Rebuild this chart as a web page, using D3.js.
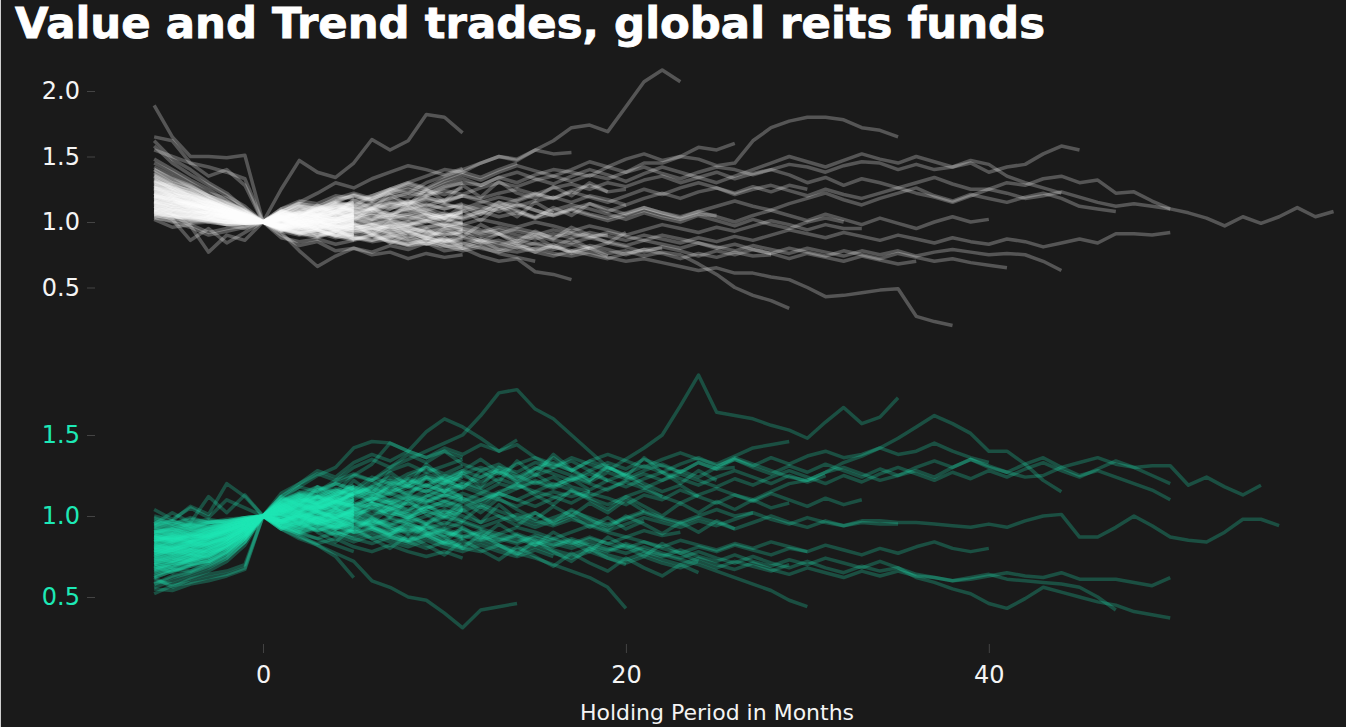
<!DOCTYPE html>
<html><head><meta charset="utf-8">
<script src="https://cdn.jsdelivr.net/npm/d3@7"></script>
<style>html,body{margin:0;padding:0;background:#1a1a1a;overflow:hidden}</style>
</head><body><svg id="c" width="1346" height="727"></svg>
<script>
// ---------- data ----------
const titleText = "Value and Trend trades, global reits funds";
const xLabel = "Holding Period in Months";
const startMonth = -6;           // first month of every series
const xTicks = [0, 20, 40];
const topTicks = [0.5, 1.0, 1.5, 2.0];
const bottomTicks = [0.5, 1.0, 1.5];

// Value trades (top panel), month -6 onward
const valueShort = [
[1.25,1.21,1.18,1.14,1.10,1.05,1,1.03,1.01,1.04,1.02,1.06],
[1.15,1.12,1.13,1.08,1.06,1.03,1,0.97,0.99,0.96,0.98,0.95],
[1.32,1.26,1.22,1.18,1.12,1.06,1,1.05,1.08,1.06,1.10,1.09],
[1.08,1.06,1.05,1.04,1.02,1.01,1,0.98,0.95,0.97,0.93,0.96],
[1.20,1.17,1.11,1.13,1.07,1.04,1,1.02,0.99,1.00,1.03,1.01],
[1.38,1.30,1.25,1.20,1.15,1.08,1,1.04,1.02,1.07,1.05,1.11],
[1.12,1.10,1.06,1.08,1.03,1.02,1,0.96,0.93,0.95,0.91,0.90],
[1.28,1.23,1.20,1.12,1.09,1.04,1,1.01,1.05,1.03,1.00,1.04],
[1.18,1.16,1.12,1.10,1.08,1.02,1,1.06,1.04,1.09,1.12,1.08],
[1.05,1.03,1.04,1.00,0.98,0.99,1,0.97,0.94,0.92,0.95,0.93],
[1.30,1.28,1.19,1.16,1.10,1.07,1,0.98,1.00,0.97,1.01,0.99],
[1.22,1.15,1.16,1.09,1.05,1.05,1,1.03,1.07,1.05,1.08,1.13],
[1.45,1.38,1.30,1.22,1.18,1.10,1,1.02,0.98,1.01,0.96,0.99],
[1.10,1.08,1.09,1.05,1.04,1.00,1,1.04,1.02,1.00,1.05,1.03],
[1.26,1.20,1.14,1.15,1.08,1.06,1,0.95,0.97,0.94,0.96,0.92],
[1.16,1.13,1.10,1.06,1.05,1.03,1,1.08,1.06,1.10,1.08,1.15],
[1.35,1.27,1.24,1.16,1.13,1.05,1,1.01,1.03,0.99,1.02,1.00],
[1.07,1.05,1.02,1.03,0.99,0.98,1,1.02,0.99,1.03,1.01,1.05],
[1.24,1.22,1.16,1.12,1.09,1.03,1,0.94,0.96,0.90,0.93,0.89],
[1.58,1.45,1.36,1.28,1.20,1.12,1,1.07,1.11,1.09,1.14,1.12],
[1.13,1.12,1.07,1.07,1.04,1.01,1,0.99,1.02,1.05,1.02,1.06],
[1.20,1.14,1.15,1.10,1.06,1.04,1,1.05,1.03,1.06,1.04,1.02],
[1.02,0.96,0.98,0.92,0.95,0.97,1,0.98,0.96,1.00,0.97,0.94],
[1.29,1.24,1.17,1.14,1.11,1.05,1,0.99,0.95,0.98,1.00,0.97],
[1.17,1.14,1.14,1.09,1.05,1.02,1,1.03,1.06,1.02,1.07,1.09],
[1.40,1.33,1.28,1.20,1.14,1.09,1,0.96,0.99,1.02,0.98,1.01],
[1.09,1.07,1.03,1.04,1.01,1.00,1,1.06,1.09,1.07,1.12,1.10],
[1.23,1.19,1.13,1.11,1.07,1.04,1,1.01,0.98,0.95,0.99,0.96],
[1.14,1.11,1.08,1.07,1.03,1.02,1,0.97,1.00,1.03,1.00,1.04],
[1.33,1.25,1.21,1.15,1.12,1.06,1,1.04,1.07,1.04,1.02,1.07],
[1.19,1.17,1.10,1.11,1.06,1.03,1,0.93,0.90,0.92,0.88,0.91],
[1.06,1.05,1.01,1.02,1.00,0.99,1,1.02,1.04,1.01,1.03,1.00],
[1.27,1.21,1.19,1.13,1.08,1.05,1,1.08,1.05,1.11,1.09,1.06],
[1.11,1.09,1.08,1.05,1.02,1.02,1,0.99,0.97,0.99,0.96,0.98],
[1.21,1.20,1.14,1.10,1.07,1.03,1,1.03,1.00,1.02,1.06,1.04],
[1.36,1.29,1.23,1.17,1.12,1.08,1,1.01,1.04,1.00,1.03,1.05],
[1.15,1.10,1.11,1.06,1.04,1.01,1,0.96,0.98,0.95,0.97,1.00],
[1.62,1.48,1.40,1.30,1.22,1.10,1,1.05,1.02,1.06,1.03,1.08],
[1.04,1.00,0.96,0.90,0.93,0.96,1,1.02,0.97,0.99,1.01,0.97],
[1.26,1.24,1.16,1.15,1.09,1.05,1,1.00,1.03,1.01,0.98,1.02],
[1.89,1.65,1.50,1.50,1.49,1.51,1,1.03,1.10,1.08,1.12,1.15],
[1.08,1.02,0.86,0.95,0.84,0.92,1,0.94,0.91,0.88,0.93,0.90],
[1.12,1.06,0.97,0.77,0.90,0.86,1,0.88,0.85,0.87,0.83,0.86],
[1.65,1.62,1.45,1.42,1.38,1.33,1,1.10,1.16,1.14,1.20,1.18],
[1.55,1.50,1.45,1.35,1.40,1.28,1,1.08,1.04,1.10,1.07,1.12]
];
const valueMedium = [
[1.30,1.24,1.20,1.15,1.10,1.05,1,1.04,1.07,1.05,1.09,1.12,1.10,1.15,1.13,1.18,1.16,1.20],
[1.15,1.13,1.10,1.07,1.04,1.02,1,0.97,0.95,0.98,0.94,0.92,0.95,0.91,0.93,0.89,0.92,0.90],
[1.22,1.18,1.14,1.12,1.07,1.04,1,1.02,1.00,1.03,1.06,1.03,1.07,1.05,1.02,1.06,1.04,1.08],
[1.10,1.09,1.06,1.04,1.03,1.01,1,0.96,0.98,0.94,0.96,0.99,0.95,0.97,1.00,0.96,0.98,0.95],
[1.42,1.35,1.27,1.20,1.15,1.09,1,1.08,1.12,1.10,1.15,1.13,1.18,1.22,1.19,1.24,1.21,1.26],
[1.18,1.15,1.13,1.08,1.05,1.03,1,0.99,1.02,0.98,1.01,0.97,0.99,0.96,0.98,1.01,0.97,0.99],
[1.25,1.19,1.17,1.11,1.08,1.04,1,1.03,1.06,1.09,1.06,1.10,1.08,1.12,1.09,1.13,1.10,1.14],
[1.08,1.05,1.04,1.03,1.00,1.00,1,0.94,0.92,0.89,0.92,0.88,0.86,0.89,0.85,0.88,0.84,0.87],
[1.34,1.27,1.22,1.16,1.11,1.06,1,1.05,1.03,1.07,1.04,1.08,1.05,1.03,1.06,1.02,1.05,1.03],
[1.19,1.16,1.12,1.09,1.06,1.02,1,1.01,0.97,1.00,0.96,0.93,0.96,0.92,0.95,0.93,0.90,0.93],
[1.27,1.22,1.18,1.14,1.09,1.04,1,1.10,1.14,1.12,1.17,1.20,1.16,1.22,1.25,1.21,1.27,1.30],
[1.12,1.10,1.08,1.05,1.03,1.01,1,0.98,1.00,1.03,1.00,1.02,1.05,1.01,1.04,1.07,1.03,1.06],
[1.48,1.40,1.32,1.25,1.16,1.08,1,1.02,0.98,1.01,0.97,0.95,0.98,0.94,0.97,0.93,0.96,0.94],
[1.21,1.19,1.13,1.12,1.07,1.03,1,1.06,1.04,1.08,1.11,1.07,1.10,1.14,1.11,1.09,1.13,1.11],
[1.16,1.12,1.11,1.06,1.04,1.02,1,0.95,0.91,0.94,0.90,0.87,0.90,0.86,0.83,0.87,0.84,0.81],
[1.31,1.26,1.20,1.17,1.10,1.06,1,1.03,1.01,1.05,1.08,1.05,1.02,1.06,1.04,1.01,1.05,1.07],
[1.06,1.04,1.02,1.01,1.00,0.99,1,0.97,0.99,0.96,0.99,1.02,0.98,1.01,0.97,1.00,1.03,0.99],
[1.24,1.20,1.15,1.12,1.08,1.04,1,1.25,1.47,1.38,1.34,1.45,1.63,1.55,1.62,1.82,1.80,1.68],
[1.14,1.08,1.05,1.02,0.98,0.95,1,0.90,0.82,0.85,0.78,0.80,0.75,0.77,0.72,0.76,0.73,0.75],
[1.09,1.06,1.07,1.03,1.02,1.01,1,0.92,0.78,0.66,0.74,0.80,0.77,0.82,0.79,0.84,0.81,0.83],
[1.37,1.30,1.26,1.19,1.12,1.07,1,1.07,1.15,1.22,1.30,1.26,1.33,1.38,1.43,1.40,1.36,1.41],
[1.20,1.18,1.14,1.10,1.06,1.03,1,1.04,1.01,0.97,1.00,1.03,0.99,0.95,0.98,1.01,0.97,1.00]
];
const valueLong = [
[1.20,1.17,1.12,1.10,1.06,1.03,1,1.04,1.08,1.12,1.10,1.16,1.20,1.25,1.30,1.35,1.40,1.38,1.45,1.50,1.47,1.55,1.52,1.53],
[1.10,1.06,1.05,1.02,1.00,0.99,1,0.96,0.93,0.95,0.90,0.88,0.85,0.87,0.82,0.84,0.78,0.80,0.74,0.70,0.72,0.62,0.60,0.56],
[1.28,1.22,1.19,1.14,1.10,1.05,1,1.06,1.04,1.10,1.15,1.12,1.20,1.25,1.22,1.30,1.35,1.40,1.45,1.50,1.48,1.55,1.62,1.72,1.74,1.69,1.88,2.07,2.16,2.07],
[1.16,1.14,1.09,1.07,1.04,1.02,1,1.03,1.07,1.05,1.10,1.14,1.12,1.18,1.22,1.20,1.26,1.30,1.28,1.34,1.30,1.36,1.40,1.38,1.35,1.42,1.38,1.45,1.45,1.50,1.48,1.43,1.45,1.62,1.72,1.77,1.80,1.80,1.78,1.72,1.70,1.65],
[1.13,1.10,1.07,1.05,1.03,1.01,1,0.97,0.95,0.98,0.93,0.96,0.92,0.89,0.92,0.88,0.85,0.88,0.84,0.86,0.82,0.79,0.81,0.77,0.80,0.76,0.78,0.74,0.77,0.75,0.68,0.60,0.50,0.44,0.40,0.34],
[1.05,1.03,1.00,1.01,0.98,0.99,1,0.95,0.92,0.94,0.90,0.87,0.89,0.85,0.83,0.86,0.82,0.80,0.83,0.79,0.77,0.80,0.76,0.74,0.77,0.73,0.70,0.72,0.69,0.66,0.63,0.65,0.61,0.61,0.58,0.56,0.50,0.43,0.44,0.46,0.48,0.49,0.28,0.24,0.21],
[1.22,1.18,1.15,1.11,1.07,1.03,1,1.02,0.98,1.01,0.97,0.95,0.98,0.94,0.96,0.92,0.90,0.93,0.89,0.91,0.87,0.90,0.86,0.84,0.88,0.85,0.82,0.86,0.83,0.80,0.84,0.81,0.78,0.82,0.79,0.76,0.80,0.77,0.74,0.78,0.75,0.78,0.74,0.77,0.79,0.77,0.75,0.76,0.75,0.70,0.63],
[1.30,1.25,1.20,1.16,1.10,1.05,1,1.05,1.09,1.07,1.12,1.10,1.15,1.18,1.14,1.20,1.24,1.21,1.26,1.30,1.27,1.32,1.35,1.31,1.36,1.33,1.38,1.42,1.37,1.33,1.38,1.42,1.40,1.36,1.40,1.44,1.42,1.38,1.43,1.46,1.45,1.40,1.44,1.40,1.42,1.45,1.38,1.42,1.44,1.52,1.58,1.55],
[1.19,1.16,1.13,1.09,1.06,1.03,1,
 1.03,1.06,1.04,1.08,1.11,1.09,1.13,1.16,1.12,1.17,
 1.20,1.18,1.22,1.25,1.21,1.26,1.29,1.25,1.30,1.27,
 1.32,1.35,1.30,1.34,1.38,1.33,1.37,1.40,1.36,1.30,
 1.34,1.28,1.33,1.30,1.26,1.30,1.34,1.29,1.25,1.25,
 1.30,1.28,1.33,1.35,1.30,1.32,1.22,1.23,1.16,1.10,
 1.07,1.03,0.97,1.04,0.99,1.04,1.11,1.04,1.08],
[1.10,1.08,1.05,1.04,1.01,1.00,1,
 0.97,0.99,0.95,0.97,0.93,0.96,0.92,0.94,0.90,0.93,
 0.95,0.91,0.94,0.90,0.87,0.91,0.88,0.92,0.89,0.86,
 0.90,0.87,0.84,0.88,0.85,0.89,0.86,0.90,0.94,0.91,
 0.88,0.92,0.89,0.86,0.90,0.87,0.84,0.88,0.85,0.83,
 0.87,0.85,0.81,0.84,0.87,0.84,0.91,0.91,0.90,0.92],
[1.16,1.12,1.10,1.06,1.04,1.02,1,
 0.98,1.02,0.99,0.95,0.98,0.94,0.97,0.93,0.96,0.99,
 0.95,0.92,0.96,0.93,0.90,0.94,0.91,0.88,0.92,0.89,
 0.86,0.90,0.87,0.84,0.80,0.83,0.79,0.76,0.80,0.77,
 0.74,0.78,0.75,0.72,0.76,0.73,0.70,0.72,0.69,0.67,0.65],
[1.24,1.20,1.16,1.12,1.08,1.04,1,
 1.02,1.06,1.03,1.07,1.05,1.09,1.06,1.10,1.14,1.10,
 1.13,1.09,1.15,1.12,1.16,1.19,1.15,1.20,1.17,1.13,
 1.18,1.22,1.18,1.23,1.26,1.21,1.25,1.28,1.24,1.20,
 1.25,1.21,1.18,1.22,1.26,1.22,1.19,1.15,1.20,1.25,
 1.22,1.18,1.20,1.23,1.19,1.15,1.12,1.14,1.12,1.10],
[1.14,1.11,1.08,1.06,1.03,1.01,1,
 0.99,0.96,1.00,1.03,0.99,1.02,0.98,1.01,1.05,1.01,
 1.04,1.08,1.04,1.07,1.03,1.06,1.10,1.06,1.03,1.07,
 1.11,1.07,1.04,1.08,1.12,1.16,1.12,1.09,1.14,1.18,
 1.22,1.17,1.13,1.18,1.22,1.26,1.20,1.16,1.21,1.18,
 1.15,1.19,1.22,1.18,1.12,1.10,1.08],
[1.32,1.26,1.22,1.17,1.12,1.06,1,
 1.08,1.13,1.10,1.16,1.20,1.17,1.23,1.27,1.23,1.29,
 1.33,1.28,1.34,1.38,1.33,1.29,1.35,1.40,1.36,1.31,
 1.37,1.42,1.38,1.34,1.30,1.35,1.40,1.45,1.50,1.46,
 1.42,1.47,1.52,1.48,1.45,1.50,1.46,1.42,1.47,1.44,
 1.35,1.30,1.26,1.22],
[1.09,1.07,1.04,1.03,1.01,0.99,1,
 0.95,0.92,0.96,0.99,0.95,0.98,1.02,0.98,1.03,1.07,
 1.03,1.08,1.12,1.08,1.04,1.09,1.13,1.10,1.06,1.02,
 1.07,1.03,1.00,1.05,1.01,0.97,1.02,0.98,0.95,1.00,1.03,1.00],
[1.20,1.17,1.13,1.10,1.06,1.03,1,
 0.97,0.94,0.97,0.93,0.90,0.94,0.91,0.87,0.90,0.86,
 0.83,0.87,0.84,0.80,0.84,0.81,0.78,0.82,0.79,0.75,
 0.79,0.76,0.72,0.76,0.73,0.77,0.74,0.75],
[1.35,1.28,1.24,1.18,1.12,1.06,1,
 1.06,1.12,1.09,1.15,1.21,1.17,1.24,1.29,1.25,1.31,
 1.36,1.32,1.38,1.43,1.39,1.35,1.40,1.46,1.42,1.48,
 1.52,1.47,1.50,1.57,1.55,1.60],
[1.18,1.14,1.12,1.08,1.05,1.02,1,
 1.04,1.02,1.06,1.10,1.07,1.11,1.15,1.12,1.17,1.14,
 1.10,1.15,1.19,1.16,1.21,1.18,1.24,1.28,1.23,1.25],
[1.06,1.04,1.03,1.01,1.00,0.99,1,
 0.96,0.92,0.89,0.93,0.89,0.86,0.90,0.86,0.83,0.87,
 0.84,0.80,0.77,0.81,0.77,0.74,0.78,0.75,0.72,0.76,0.79,0.80],
[1.26,1.21,1.18,1.13,1.09,1.04,1,
 1.01,0.99,1.03,1.00,1.04,1.07,1.03,1.06,1.10,1.06,
 1.02,1.06,1.10,1.14,1.09,1.05,1.09,1.05,1.01,1.05,
 1.09,1.05,1.02,1.06,1.05],
[1.12,1.09,1.07,1.04,1.02,1.00,1,
 0.95,0.91,0.94,0.89,0.86,0.90,0.85,0.82,0.86,0.82,0.78,0.81,0.76,0.73,0.70],
[1.40,1.32,1.27,1.20,1.14,1.08,1,
 1.08,1.14,1.11,1.18,1.22,1.18,1.25,1.30,1.26,1.33,1.38,1.34,1.40,1.45],
[1.15,1.12,1.09,1.07,1.04,1.02,1,
 1.03,1.00,1.04,1.08,1.04,1.01,1.05,1.09,1.05,1.02,
 0.98,1.02,0.99,0.96,1.00,0.97,0.93,0.97,0.94,0.90,
 0.94,0.98,0.95,0.92,0.96,0.93,0.97,1.01,0.98,0.94,0.98,0.95,0.95],
[1.28,1.24,1.19,1.15,1.10,1.05,1,
 1.07,1.04,1.09,1.13,1.09,1.14,1.10,1.15,1.19,1.15,
 1.20,1.16,1.12,1.17,1.22,1.18,1.23,1.19,1.15,1.20,
 1.25,1.21,1.26,1.30,1.26,1.22,1.27,1.23,1.28,1.25],
[1.08,1.06,1.04,1.02,1.00,1.00,1,
 0.98,1.01,0.97,0.94,0.98,0.95,0.99,0.96,0.92,0.95,
 0.98,0.94,0.91,0.95,0.92,0.88,0.92,0.89,0.90],
[1.21,1.17,1.14,1.10,1.07,1.03,1,
 1.04,1.01,1.05,1.02,1.06,1.10,1.06,1.11,1.07,1.03,
 1.08,1.12,1.08,1.13,1.09,1.05,1.10,1.14,1.10,1.06,
 1.11,1.07,1.03,1.08,1.04,1.00,1.05,1.09,1.05,1.01,
 1.06,1.02,0.98,1.03,0.99,0.95,1.00,1.04,1.00,1.02],
[1.03,1.01,0.99,1.00,0.98,0.99,1,
 0.94,0.97,0.93,0.90,0.94,0.91,0.88,0.92,0.88,0.85,
 0.89,0.86,0.82,0.86,0.83,0.79,0.83,0.80,0.84,0.81,
 0.77,0.81,0.78,0.74,0.78,0.75,0.79,0.76,0.72,0.76,
 0.73,0.70,0.74,0.71,0.68,0.70]
];
const valueExtra = [
[1.23,1.19,1.15,1.12,1.08,1.04,1,0.97,1.05,0.99,1.08,1.01,1.11,1.03,1.14,1.06,0.98,1.09,1.01,1.12,1.04,1.15,1.07],
[1.11,1.09,1.06,1.04,1.02,1.01,1,1.04,0.96,1.02,0.93,0.99,0.90,0.97,0.88,0.95,0.86,0.93,0.85,0.91,0.83,0.89,0.81,0.87,0.80],
[1.31,1.25,1.21,1.16,1.11,1.05,1,1.09,1.03,1.13,1.06,1.17,1.10,1.21,1.13,1.25,1.16,1.28,1.19,1.31,1.22,1.18,1.27,1.20,1.30,1.23],
[1.17,1.14,1.11,1.08,1.05,1.02,1,0.95,1.01,0.94,0.89,0.97,0.91,1.00,0.93,0.87,0.95,0.89,0.98,0.91,0.85,0.93,0.87,0.96,0.90,0.84,0.92],
[1.26,1.22,1.17,1.13,1.09,1.04,1,1.06,1.12,1.05,1.14,1.08,1.02,1.10,1.16,1.09,1.03,1.12,1.06,1.15,1.09,1.03,1.11,1.05,1.14,1.08,1.13],
[1.07,1.05,1.03,1.02,1.00,0.99,1,0.93,0.98,0.90,0.95,0.87,0.92,0.84,0.90,0.83,0.88,0.80,0.86,0.79,0.84,0.77,0.83,0.76,0.80,0.74]
];

// Trend trades (bottom panel), month -6 onward
const trendShort = [
[0.78,0.82,0.80,0.86,0.90,0.94,1,1.04,1.02,1.07,1.05,1.10],
[0.70,0.72,0.76,0.74,0.82,0.90,1,0.97,1.01,0.98,1.03,1.00],
[0.88,0.86,0.90,0.92,0.95,0.97,1,1.06,1.10,1.08,1.13,1.16],
[0.62,0.66,0.70,0.72,0.78,0.86,1,0.95,0.92,0.96,0.93,0.97],
[0.82,0.85,0.84,0.88,0.91,0.96,1,1.02,1.07,1.05,1.09,1.06],
[0.95,0.92,0.96,0.94,0.97,0.98,1,1.08,1.05,1.12,1.09,1.14],
[0.74,0.78,0.76,0.80,0.85,0.92,1,0.93,0.96,0.91,0.94,0.90],
[0.86,0.84,0.88,0.87,0.92,0.95,1,1.03,1.00,1.04,1.08,1.05],
[0.68,0.71,0.74,0.78,0.80,0.88,1,1.01,1.05,1.02,1.00,1.04],
[0.90,0.93,0.91,0.95,0.94,0.98,1,0.98,0.95,0.99,0.96,1.01],
[0.76,0.74,0.79,0.83,0.87,0.93,1,1.05,1.09,1.12,1.08,1.13],
[0.58,0.63,0.66,0.70,0.75,0.84,1,0.96,0.99,0.95,0.98,0.94],
[0.84,0.88,0.86,0.90,0.93,0.96,1,1.07,1.04,1.09,1.06,1.11],
[0.98,0.95,0.99,0.96,0.98,0.99,1,1.02,1.06,1.03,1.07,1.04],
[0.72,0.75,0.79,0.77,0.84,0.90,1,0.94,0.90,0.93,0.89,0.92],
[0.80,0.83,0.81,0.86,0.89,0.94,1,1.09,1.13,1.10,1.15,1.19],
[0.92,0.89,0.93,0.91,0.95,0.97,1,1.00,1.03,0.99,1.02,0.98],
[0.66,0.69,0.73,0.76,0.81,0.89,1,1.04,1.01,1.05,1.10,1.07],
[0.87,0.85,0.87,0.89,0.92,0.96,1,0.96,0.99,1.03,1.00,1.03],
[0.75,0.80,0.78,0.82,0.86,0.93,1,1.06,1.11,1.08,1.12,1.09],
[0.60,0.58,0.62,0.66,0.72,0.82,1,0.97,0.93,0.96,0.92,0.95],
[0.83,0.80,0.84,0.85,0.90,0.94,1,1.03,1.07,1.11,1.07,1.12],
[0.94,0.97,0.93,0.96,0.95,0.98,1,1.05,1.02,1.06,1.03,1.08],
[0.71,0.73,0.77,0.75,0.81,0.89,1,0.99,1.02,0.98,1.01,0.97],
[0.79,0.77,0.82,0.84,0.88,0.93,1,1.10,1.07,1.13,1.16,1.12],
[0.89,0.91,0.88,0.92,0.93,0.97,1,0.95,0.97,0.94,0.98,0.95],
[0.64,0.67,0.69,0.73,0.78,0.87,1,1.02,1.05,1.09,1.06,1.10],
[0.81,0.79,0.83,0.82,0.87,0.92,1,1.04,1.00,1.03,0.99,1.02],
[0.97,0.94,0.96,0.98,0.96,0.99,1,1.07,1.10,1.06,1.10,1.14],
[0.73,0.76,0.74,0.79,0.83,0.91,1,0.92,0.95,0.91,0.95,0.93],
[0.85,0.87,0.85,0.88,0.91,0.95,1,1.01,1.04,1.07,1.04,1.08],
[0.69,0.65,0.70,0.72,0.77,0.86,1,1.03,0.99,1.02,0.98,1.01],
[0.77,0.81,0.79,0.84,0.86,0.92,1,1.08,1.12,1.09,1.14,1.10],
[0.91,0.88,0.92,0.90,0.94,0.97,1,0.97,1.00,0.96,0.99,1.03],
[0.56,0.60,0.64,0.68,0.74,0.84,1,1.00,0.96,1.00,1.04,1.00],
[0.83,0.86,0.84,0.87,0.90,0.95,1,1.05,1.08,1.04,1.09,1.06],
[1.04,0.98,1.05,0.99,1.10,1.05,1,1.06,1.03,1.08,1.05,1.02],
[0.95,1.02,0.96,1.12,1.02,1.13,1,1.10,1.14,1.18,1.13,1.18],
[1.00,0.97,1.06,1.01,1.20,1.12,1,1.08,1.12,1.15,1.20,1.17],
[0.55,0.54,0.58,0.60,0.63,0.67,1,0.93,0.90,0.86,0.82,0.78],
[0.62,0.56,0.61,0.64,0.66,0.70,1,0.95,0.88,0.82,0.75,0.62],
[0.52,0.57,0.59,0.62,0.64,0.68,1,0.97,0.94,0.98,0.95,0.99]
];
const trendMedium = [
[0.80,0.83,0.85,0.88,0.92,0.95,1,1.05,1.10,1.08,1.14,1.18,1.15,1.21,1.18,1.24,1.22,1.27],
[0.72,0.75,0.73,0.79,0.84,0.91,1,0.96,0.93,0.97,0.94,0.90,0.93,0.89,0.92,0.88,0.91,0.87],
[0.88,0.86,0.90,0.89,0.94,0.96,1,1.03,1.07,1.04,1.09,1.06,1.11,1.08,1.12,1.09,1.14,1.11],
[0.65,0.68,0.72,0.75,0.80,0.88,1,1.01,0.98,1.02,1.05,1.01,1.04,1.00,1.03,1.06,1.02,1.05],
[0.93,0.90,0.94,0.92,0.95,0.98,1,1.12,1.18,1.15,1.22,1.26,1.22,1.28,1.32,1.27,1.31,1.35],
[0.78,0.76,0.80,0.83,0.86,0.92,1,0.98,1.02,0.99,0.96,1.00,0.97,0.94,0.98,0.95,0.99,0.96],
[0.84,0.87,0.85,0.89,0.91,0.95,1,1.06,1.03,1.08,1.12,1.08,1.05,1.10,1.07,1.12,1.16,1.12],
[0.70,0.68,0.73,0.76,0.82,0.89,1,0.93,0.89,0.86,0.90,0.86,0.83,0.87,0.84,0.80,0.84,0.81],
[0.96,0.93,0.95,0.97,0.96,0.98,1,1.09,1.13,1.10,1.16,1.12,1.18,1.22,1.18,1.23,1.20,1.24],
[0.76,0.79,0.77,0.82,0.86,0.92,1,1.02,1.06,1.03,1.00,1.04,1.08,1.05,1.01,1.05,1.09,1.06],
[0.62,0.66,0.69,0.71,0.77,0.86,1,0.97,1.00,0.96,1.00,0.97,0.94,0.98,0.95,0.92,0.96,0.93],
[0.86,0.84,0.88,0.86,0.91,0.95,1,1.14,1.20,1.26,1.22,1.30,1.35,1.30,1.38,1.33,1.40,1.36],
[0.81,0.85,0.83,0.87,0.90,0.94,1,1.01,0.97,1.00,1.04,1.00,1.05,1.02,0.99,1.03,1.00,1.04],
[0.74,0.72,0.76,0.80,0.84,0.91,1,1.07,1.11,1.07,1.12,1.16,1.12,1.17,1.14,1.19,1.15,1.20],
[0.90,0.92,0.89,0.93,0.94,0.97,1,0.94,0.90,0.93,0.88,0.91,0.86,0.89,0.85,0.88,0.83,0.86],
[0.67,0.71,0.70,0.74,0.79,0.87,1,1.04,1.08,1.05,1.09,1.13,1.09,1.06,1.11,1.08,1.13,1.10],
[0.79,0.81,0.84,0.83,0.88,0.93,1,1.00,1.03,1.06,1.02,1.05,1.01,1.04,1.08,1.04,1.07,1.03],
[0.99,0.95,0.98,0.96,0.97,0.99,1,1.11,1.08,1.16,1.20,1.16,1.24,1.20,1.26,1.30,1.26,1.31],
[0.58,0.62,0.65,0.69,0.74,0.84,1,0.92,0.87,0.83,0.86,0.81,0.78,0.82,0.78,0.75,0.78,0.74],
[0.87,0.89,0.86,0.90,0.92,0.96,1,1.05,1.09,1.13,1.09,1.14,1.17,1.13,1.18,1.15,1.20,1.17],
[0.70,0.72,0.75,0.78,0.82,0.88,1,0.92,0.86,0.82,0.77,0.72,0.60,0.56,0.50,0.48,0.40,0.31,0.42,0.44,0.46]
];
const trendLong = [
[0.82,0.80,0.84,0.86,0.90,0.94,1,
 0.97,0.94,0.98,0.93,0.90,0.92,0.87,0.84,0.88,0.83,
 0.80,0.78,0.82,0.77,0.74,0.70,0.66,0.62,0.56,0.43],
[0.75,0.78,0.76,0.80,0.85,0.92,1,
 0.98,1.01,0.97,0.94,0.98,0.94,0.91,0.95,0.91,0.88,
 0.92,0.88,0.85,0.89,0.85,0.82,0.86,0.82,0.79,0.83,
 0.79,0.76,0.73,0.70,0.66,0.62,0.58,0.54,0.48,0.44],
[0.85,0.88,0.86,0.90,0.93,0.96,1,
 1.05,1.09,1.06,1.12,1.16,1.12,1.18,1.22,1.18,1.24,
 1.28,1.24,1.30,1.27,1.33,1.30,1.36,1.32,1.28,1.35,
 1.42,1.50,1.68,1.87,1.64,1.62,1.60,1.56,1.53,1.48,
 1.58,1.67,1.57,1.61,1.73],
[0.88,0.90,0.87,0.92,0.94,0.97,1,
 1.08,1.15,1.12,1.20,1.25,1.22,1.30,1.35,1.40,1.45,
 1.50,1.62,1.76,1.78,1.66,1.60,1.50,1.40,1.30,1.25,1.18,1.12],
[0.80,0.84,0.82,0.87,0.90,0.95,1,
 1.06,1.12,1.18,1.15,1.25,1.32,1.45,1.40,1.52,1.60,
 1.55,1.48,1.40,1.44,1.36,1.30,1.34,1.28,1.22,1.26,
 1.20,1.15,1.19,1.12],
[0.92,0.90,0.94,0.93,0.96,0.98,1,
 1.10,1.18,1.25,1.30,1.42,1.46,1.45,1.40,1.36,1.40,
 1.32,1.28,1.32,1.25,1.20,1.24,1.18,1.15],
[0.83,0.81,0.85,0.87,0.91,0.95,1,
 1.03,1.07,1.04,1.09,1.06,1.11,1.08,1.13,1.10,1.06,
 1.11,1.08,1.14,1.10,1.15,1.12,1.08,1.14,1.11,1.07,
 1.13,1.10,1.16,1.12,1.08,1.13,1.10,1.15,1.20,1.22,
 1.27,1.33,1.37,1.42,1.48,1.55,1.62,1.57,1.51,1.40,
 1.40,1.32,1.22,1.15],
[0.90,0.87,0.91,0.89,0.93,0.96,1,
 1.04,1.00,1.05,1.09,1.05,1.10,1.14,1.10,1.16,1.12,
 1.18,1.14,1.20,1.17,1.22,1.18,1.24,1.20,1.16,1.22,
 1.26,1.22,1.28,1.24,1.30,1.36,1.32,1.28,1.24,1.22,
 1.27,1.30,1.26,1.22,1.25,1.28,1.24,1.30,1.35,1.30,
 1.27,1.24,1.25,1.30,1.33,1.36,1.32,1.30,1.31,1.31,
 1.19,1.24,1.18,1.13,1.19],
[0.77,0.79,0.82,0.81,0.86,0.92,1,
 0.97,1.00,0.96,0.99,1.03,0.99,0.95,0.99,0.96,1.00,
 0.97,0.93,0.97,1.01,0.97,0.94,0.98,0.95,0.91,0.95,
 0.99,0.96,0.93,0.97,0.94,0.98,1.02,0.98,0.95,0.99,
 0.96,0.94,0.97,0.97,0.96,0.96,0.95,0.94,0.93,0.95,
 0.93,0.97,1.00,1.01,0.87,0.87,0.93,1.00,0.94,0.87,
 0.85,0.84,0.90,0.98,0.98,0.94],
[0.85,0.83,0.87,0.88,0.92,0.95,1,
 1.04,1.08,1.05,1.10,1.14,1.10,1.15,1.19,1.15,1.21,
 1.25,1.21,1.27,1.23,1.29,1.33,1.28,1.34,1.30,1.26,
 1.31,1.27,1.32,1.36,1.31,1.35,1.30,1.26,1.31,1.27,
 1.32,1.28,1.24,1.29,1.25,1.30,1.34,1.30,1.35,1.31,
 1.27,1.32,1.36,1.30,1.25,1.28,1.24,1.20,1.16,1.10],
[0.79,0.82,0.80,0.85,0.88,0.94,1,
 1.02,0.99,1.03,1.07,1.03,1.08,1.04,1.09,1.13,1.09,
 1.14,1.10,1.15,1.19,1.15,1.20,1.16,1.12,1.17,1.21,
 1.17,1.22,1.26,1.22,1.18,1.23,1.19,1.24,1.28,1.24,
 1.20,1.25,1.21,1.26,1.30,1.26,1.22,1.27,1.23,1.28,
 1.24,1.29,1.33,1.28,1.24,1.29,1.34,1.30,1.25,1.20],
[0.68,0.71,0.74,0.77,0.82,0.89,1,
 0.96,0.92,0.95,0.91,0.88,0.92,0.88,0.85,0.89,0.85,
 0.82,0.86,0.82,0.79,0.83,0.79,0.76,0.80,0.76,0.73,
 0.77,0.73,0.70,0.74,0.70,0.67,0.71,0.67,0.64,0.68,
 0.65,0.62,0.66,0.63,0.66,0.63,0.62,0.60,0.61,0.63,
 0.65,0.63,0.62,0.65,0.61,0.61,0.61,0.59,0.57,0.62],
[0.74,0.77,0.75,0.79,0.84,0.91,1,
 0.97,1.00,0.96,0.93,0.97,0.93,0.90,0.94,0.90,0.87,
 0.91,0.87,0.84,0.88,0.84,0.81,0.85,0.81,0.78,0.82,
 0.78,0.75,0.79,0.75,0.72,0.76,0.72,0.69,0.73,0.70,
 0.74,0.71,0.68,0.72,0.68,0.62,0.59,0.55,0.52,0.46,
 0.43,0.49,0.56,0.53,0.50,0.47,0.45,0.41,0.39,0.37],
[0.88,0.86,0.89,0.88,0.92,0.96,1,
 0.98,0.95,0.99,0.96,0.92,0.96,0.93,0.89,0.93,0.90,
 0.86,0.90,0.86,0.83,0.87,0.83,0.80,0.84,0.80,0.77,
 0.81,0.77,0.74,0.78,0.74,0.71,0.75,0.71,0.68,0.72,
 0.68,0.65,0.69,0.66,0.68,0.64,0.62,0.60,0.62,0.64,
 0.61,0.60,0.59,0.58,0.56,0.50,0.42],
[0.90,0.92,0.89,0.93,0.95,0.97,1,
 1.06,1.10,1.07,1.13,1.17,1.13,1.19,1.23,1.19,1.25,
 1.21,1.17,1.23,1.19,1.25,1.29,1.25,1.21,1.27,1.23,
 1.28,1.32,1.27,1.33,1.29,1.35,1.31,1.36,1.32,1.37,
 1.40,1.36,1.38,1.42,1.38,1.40,1.45,1.40,1.36,1.33],
[0.73,0.76,0.79,0.78,0.84,0.91,1,
 1.03,1.07,1.03,0.99,1.04,1.08,1.04,1.00,1.05,1.09,
 1.05,1.10,1.14,1.10,1.06,1.11,1.15,1.11,1.07,1.12,
 1.16,1.12,1.08,1.13,1.17,1.13,1.09,1.14,1.10,1.06,1.11,1.07,1.10],
[0.66,0.69,0.72,0.75,0.80,0.88,1,
 0.95,0.91,0.94,0.90,0.86,0.90,0.86,0.83,0.87,0.83,
 0.80,0.84,0.80,0.77,0.81,0.77,0.74,0.78,0.74,0.71,
 0.75,0.71,0.68,0.72,0.68,0.72,0.69,0.66,0.70],
[0.94,0.91,0.95,0.93,0.96,0.98,1,
 1.09,1.14,1.11,1.17,1.13,1.19,1.24,1.20,1.26,1.22,
 1.18,1.24,1.28,1.24,1.30,1.26,1.22,1.28,1.33,1.29,
 1.35,1.31,1.27,1.33,1.29,1.30],
[0.81,0.79,0.83,0.85,0.89,0.94,1,
 1.00,0.97,1.01,0.98,0.94,0.98,0.95,0.91,0.95,0.92,
 0.96,0.92,0.89,0.93,0.90,0.86,0.90,0.94,0.90,0.87,0.91,0.88,0.90],
[0.77,0.80,0.78,0.82,0.86,0.93,1,
 1.05,1.02,1.07,1.11,1.07,1.12,1.08,1.04,1.09,1.13,
 1.09,1.14,1.10,1.06,1.11,1.15,1.12,1.15],
[0.70,0.73,0.71,0.76,0.81,0.89,1,
 0.93,0.89,0.92,0.88,0.84,0.88,0.84,0.81,0.85,0.81,
 0.78,0.82,0.78,0.75,0.79,0.75],
[0.87,0.85,0.88,0.90,0.93,0.96,1,
 1.02,1.06,1.02,0.98,1.02,1.06,1.02,0.99,1.03,0.99,
 1.03,1.07,1.03,0.99,0.95,0.99,1.03,0.99,0.95,0.99,
 1.03,0.99,0.96,1.00,1.04,1.00,1.02],
[0.84,0.86,0.84,0.88,0.91,0.95,1,
 1.07,1.11,1.08,1.14,1.18,1.14,1.10,1.15,1.19,1.15,
 1.20,1.16,1.12,1.17,1.21,1.17,1.22,1.26,1.22,1.18,
 1.23,1.27,1.23,1.19,1.24,1.28,1.24,1.20,1.25,1.21,1.25],
[0.95,0.97,0.94,0.96,0.97,0.99,1,
 1.12,1.20,1.28,1.24,1.33,1.38,1.34,1.40,1.36,1.42,
 1.38,1.44,1.40,1.47],
[0.79,0.77,0.81,0.83,0.87,0.93,1,
 0.97,1.01,0.98,1.02,0.98,0.95,0.99,0.96,1.00,1.04,
 1.00,0.96,1.00,0.97,0.93,0.97,1.01,0.97,0.94,0.98,
 1.02,0.98,0.95,0.99,0.96,0.92,0.96,1.00,0.96,0.93,
 0.97,0.94,0.96,0.95,0.95],
[0.86,0.89,0.87,0.91,0.93,0.96,1,
 1.04,1.08,1.12,1.08,1.14,1.18,1.14,1.20,1.24,1.20,
 1.26,1.30,1.26,1.32,1.36,1.32,1.28,1.34,1.38,1.34,
 1.30,1.35,1.39,1.35,1.32,1.37,1.42,1.44,1.46],
[0.72,0.74,0.77,0.80,0.84,0.91,1,
 0.96,0.99,0.95,0.92,0.96,0.92,0.89,0.93,0.89,0.92,
 0.88,0.85,0.89,0.86,0.82,0.86,0.83,0.87,0.83,0.80,
 0.84,0.80,0.77,0.81,0.78,0.82,0.79,0.76,0.80,0.78],
[0.82,0.84,0.82,0.86,0.89,0.94,1,
 0.98,0.95,0.99,0.96,0.93,0.97,0.93,0.90,0.94,0.90,
 0.87,0.91,0.87,0.84,0.88,0.85,0.82,0.86,0.83,0.87,
 0.84,0.81,0.85,0.82,0.79,0.83,0.80,0.84,0.81,0.78,
 0.82,0.79,0.76,0.80,0.77,0.81,0.84,0.80,0.78,0.80]
];
const trendExtra = [
[0.76,0.79,0.77,0.81,0.85,0.92,1,1.08,1.02,1.12,1.05,1.16,1.09,1.20,1.12,1.24,1.15,1.27,1.18,1.30,1.21,1.26,1.19,1.23,1.16,1.22],
[0.88,0.85,0.89,0.87,0.91,0.95,1,0.94,1.02,0.96,1.05,0.97,1.08,0.99,1.10,1.01,0.94,1.04,0.96,1.07,0.98,1.02,0.95,1.00,0.93,0.99,0.92,0.97],
[0.71,0.74,0.72,0.77,0.82,0.90,1,1.03,0.95,1.06,0.98,0.90,0.99,0.92,0.85,0.94,0.87,0.80,0.89,0.82,0.76,0.85,0.78,0.72,0.80,0.74,0.70],
[0.93,0.95,0.92,0.96,0.97,0.99,1,1.12,1.06,1.18,1.10,1.22,1.14,1.27,1.19,1.32,1.23,1.17,1.28,1.21,1.34,1.25,1.38,1.29,1.22,1.31,1.24,1.36,1.27,1.20,1.28,1.22],
[0.80,0.78,0.82,0.84,0.88,0.93,1,0.96,1.04,0.98,0.92,1.01,0.94,0.88,0.97,0.90,0.84,0.93,0.86,0.95,0.88,0.82,0.90,0.84,0.78,0.87,0.81,0.75,0.83,0.77,0.72],
[0.85,0.87,0.84,0.88,0.91,0.95,1,1.06,1.13,1.07,1.01,1.10,1.16,1.09,1.03,1.12,1.18,1.11,1.05,1.14,1.20,1.13,1.07,1.16,1.10,1.04,1.12,1.06,1.00,1.08,1.02,1.09,1.04,1.10,1.05,1.08],
[0.67,0.70,0.73,0.72,0.78,0.87,1,0.92,0.98,0.90,0.84,0.93,0.86,0.80,0.88,0.82,0.76,0.85,0.79,0.73,0.81,0.75,0.69,0.77,0.71,0.66,0.74,0.68,0.63,0.70,0.65],
[0.90,0.88,0.92,0.91,0.94,0.97,1,1.04,1.10,1.16,1.08,1.14,1.22,1.15,1.24,1.30,1.22,1.28,1.35,1.27,1.21,1.29,1.36,1.28,1.22,1.30,1.25],
[0.78,0.81,0.79,0.83,0.87,0.93,1,1.01,0.96,1.03,0.97,1.05,0.99,1.07,1.01,0.95,1.03,0.97,1.06,1.00,0.94,1.02,0.96,1.04,0.98,0.92,1.00,0.95,0.89,0.96,0.90,0.97,0.92],
[0.63,0.67,0.66,0.71,0.76,0.86,1,0.97,0.91,1.00,0.94,1.03,0.96,1.05,0.98,1.07,1.00,1.09,1.02,1.11,1.04,0.98,1.06,1.00,1.08,1.02,1.10,1.03]
];

// ---------- drawing ----------
const W = 1346, H = 727;
const svg = d3.select("#c");
svg.append("rect").attr("width", W).attr("height", H).attr("fill", "#1a1a1a");
svg.append("line").attr("x1", 0.5).attr("x2", 0.5).attr("y1", 0).attr("y2", H)
   .attr("stroke", "#cfcfcf").attr("stroke-width", 1);

const plotLeft = 95, plotRight = 1339;
const x = d3.scaleLinear().domain([-9.26, 59.3]).range([plotLeft, plotRight]);
const yTop = d3.scaleLinear().domain([0.2, 2.2]).range([326.8, 64.8]);
const yBot = d3.scaleLinear().domain([0.2, 1.9]).range([645.6, 370.2]);

const white = "#ffffff", teal = "#1de9b6";
const font = "'DejaVu Sans', Verdana, sans-serif";

function drawPanel(series, y, color) {
  const line = d3.line().x((d, i) => x(startMonth + i)).y(d => y(d));
  svg.append("g").selectAll("path").data(series).join("path")
    .attr("d", line).attr("fill", "none").attr("stroke", color)
    .attr("stroke-opacity", 0.26).attr("stroke-width", 3.5)
    .attr("stroke-linejoin", "round").attr("stroke-linecap", "butt");
}
drawPanel([...valueShort, ...valueMedium, ...valueLong, ...valueExtra], yTop, white);
drawPanel([...trendShort, ...trendMedium, ...trendLong, ...trendExtra], yBot, teal);

function yAxis(scale, ticks, color) {
  const g = svg.append("g").attr("transform", `translate(${plotLeft},0)`)
    .call(d3.axisLeft(scale).tickValues(ticks).tickFormat(d3.format(".1f"))
      .tickSize(8).tickPadding(7));
  g.select(".domain").remove();
  g.selectAll(".tick line").attr("stroke", "#444").attr("stroke-width", 1);
  g.selectAll(".tick text").attr("fill", color).attr("font-family", font)
    .attr("font-size", 24);
}
yAxis(yTop, topTicks, "#f4f4f4");
yAxis(yBot, bottomTicks, teal);

const gx = svg.append("g").attr("transform", "translate(0,644)")
  .call(d3.axisBottom(x).tickValues(xTicks).tickSize(9).tickPadding(13));
gx.select(".domain").remove();
gx.selectAll(".tick line").attr("stroke", "#444");
gx.selectAll(".tick text").attr("fill", "#f4f4f4").attr("font-family", font).attr("font-size", 24);

svg.append("text").attr("x", (plotLeft + plotRight) / 2).attr("y", 720)
  .attr("text-anchor", "middle").attr("fill", "#f4f4f4")
  .attr("font-family", font).attr("font-size", 22).text(xLabel);

svg.append("text").attr("x", 15).attr("y", 38)
  .attr("fill", "#ffffff").attr("font-family", font).attr("font-weight", "bold")
  .attr("font-size", 42).attr("stroke", "#ffffff").attr("stroke-width", 0.8)
  .attr("textLength", 1030).attr("lengthAdjust", "spacingAndGlyphs")
  .text(titleText);
</script>
</body></html>
